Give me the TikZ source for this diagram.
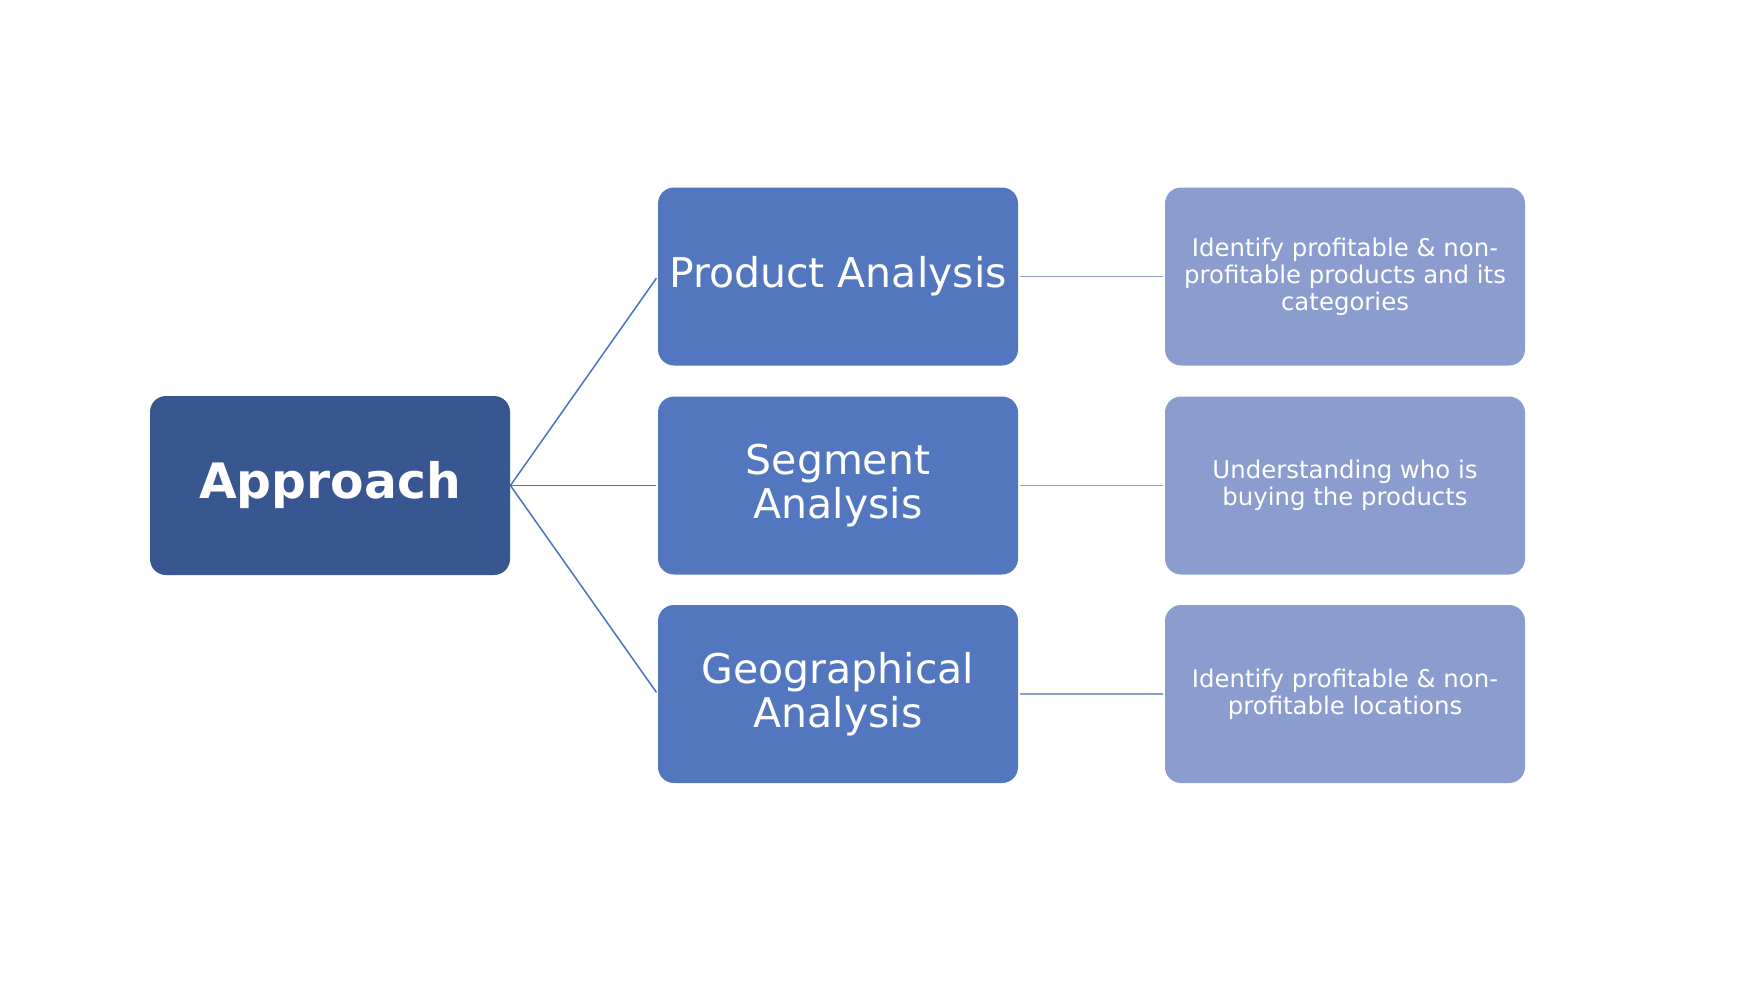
\documentclass[tikz,border=0pt]{standalone}
\usepackage{fontspec}
\setmainfont{DejaVu Sans}
\definecolor{cApproach}{HTML}{38568F}
\definecolor{cMid}{HTML}{5277BF}
\definecolor{cRight}{HTML}{8B9DCE}
\definecolor{cLink}{HTML}{4A72C0}
\definecolor{cLinkLight}{HTML}{8B9DCE}
\tikzset{
  basebox/.style={rectangle, rounded corners=8pt, inner sep=0pt, text=white, align=center,
    minimum width=180pt, minimum height=89pt},
  rootbox/.style={basebox, fill=cApproach, minimum height=89.5pt,
    font=\fontsize{24.4}{26}\selectfont\bfseries},
  midbox/.style={basebox, fill=cMid, font=\fontsize{20.5}{22.3}\selectfont},
  descbox/.style={basebox, fill=cRight, font=\fontsize{12.2}{13.4}\selectfont},
  mainlink/.style={draw=cLink, line width=0.75pt, shorten >=1pt},
  sidelink/.style={draw=cLinkLight, line width=0.6pt, shorten >=1pt, shorten <=1pt},
}
\begin{document}
\begin{tikzpicture}[x=0.5pt, y=-0.5pt]
\useasboundingbox (0,0) rectangle (1744,982);
\node[rootbox] (root) at (330,485.5) {Approach};
\node[midbox] (m1) at (838,276.5) {Product Analysis};
\node[midbox] (m2) at (838,485.5) {Segment\\Analysis};
\node[midbox] (m3) at (838,694) {Geographical\\Analysis};
\node[descbox] (d1) at (1345,276.5) {Identify profitable \& non-\\profitable products and its\\categories};
\node[descbox] (d2) at (1345,485.5) {Understanding who is\\buying the products};
\node[descbox] (d3) at (1345,694) {Identify profitable \& non-\\profitable locations};
\draw[mainlink] (root.east) -- (m1.west);
\draw[mainlink] (root.east) -- (m2.west);
\draw[mainlink] (root.east) -- (m3.west);
\draw[sidelink] (m1.east) -- (d1.west);
\draw[sidelink] (m2.east) -- (d2.west);
\draw[sidelink] (m3.east) -- (d3.west);
\end{tikzpicture}
\end{document}
